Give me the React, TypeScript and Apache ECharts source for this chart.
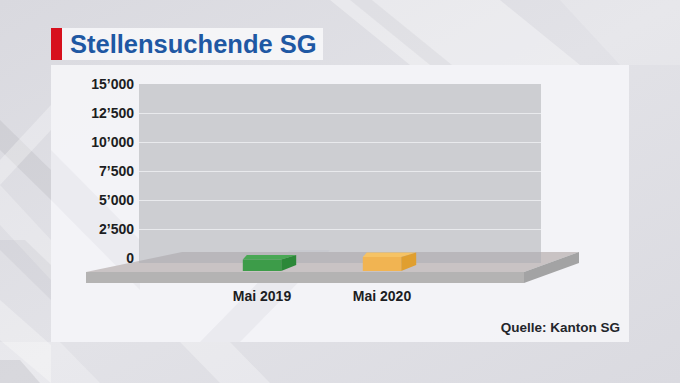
import React, { useEffect, useRef } from "react";
import * as echarts from "echarts";

const categories = ["Mai 2019", "Mai 2020"];
const values = [1000, 1200];
const barColors = [
  { front: "#3d9c49", top: "#4aa855", side: "#2c8838" },
  { front: "#f1b452", top: "#f6c365", side: "#e09f30" },
];
const yMin = 0;
const yMax = 15000;
const yStep = 2500;
const titleText = "Stellensuchende SG";
const sourceText = "Quelle: Kanton SG";

const FONT = "'Liberation Sans', Arial, Helvetica, sans-serif";

function fmt(v: number): string {
  if (v >= 1000) {
    return Math.floor(v / 1000) + "\u2019" + String(v % 1000).padStart(3, "0");
  }
  return String(v);
}

export default function App() {
  const ref = useRef<HTMLDivElement>(null);
  useEffect(() => {
    if (!ref.current) return;
    const chart = echarts.init(ref.current, null, { renderer: "svg" });

    const bg: any[] = [
      {
        type: "rect",
        z: 0,
        shape: { x: 0, y: 0, width: 680, height: 383 },
        style: {
          fill: new echarts.graphic.LinearGradient(0, 0, 1, 1, [
            { offset: 0, color: "#d9d9df" },
            { offset: 0.5, color: "#e2e2e7" },
            { offset: 1, color: "#dadae0" },
          ]),
        },
      },
      { type: "polygon", z: 0, shape: { points: [[330, 0], [500, 0], [580, 65], [410, 65]] }, style: { fill: "rgba(255,255,255,0.35)" } },
      { type: "polygon", z: 0, shape: { points: [[350, 0], [372, 0], [452, 65], [430, 65]] }, style: { fill: "rgba(120,120,130,0.08)" } },
      { type: "polygon", z: 0, shape: { points: [[560, 0], [680, 0], [680, 65], [620, 65]] }, style: { fill: "rgba(255,255,255,0.18)" } },
      { type: "polygon", z: 0, shape: { points: [[0, 120], [51, 170], [51, 200], [0, 150]] }, style: { fill: "rgba(120,120,130,0.12)" } },
      { type: "polygon", z: 0, shape: { points: [[0, 160], [51, 105], [51, 130], [0, 185]] }, style: { fill: "rgba(255,255,255,0.3)" } },
      { type: "polygon", z: 0, shape: { points: [[0, 185], [51, 240], [51, 280], [0, 225]] }, style: { fill: "rgba(255,255,255,0.25)" } },
      { type: "polygon", z: 0, shape: { points: [[0, 240], [25, 240], [51, 265], [51, 300], [0, 250]] }, style: { fill: "rgba(120,120,130,0.08)" } },
      { type: "polygon", z: 0, shape: { points: [[0, 300], [51, 345], [51, 383], [0, 340]] }, style: { fill: "rgba(255,255,255,0.3)" } },
      { type: "polygon", z: 0, shape: { points: [[0, 342], [60, 342], [100, 383], [0, 383]] }, style: { fill: "rgba(255,255,255,0.25)" } },
      { type: "polygon", z: 0, shape: { points: [[180, 342], [230, 342], [270, 383], [220, 383]] }, style: { fill: "rgba(255,255,255,0.3)" } },
      { type: "polygon", z: 0, shape: { points: [[0, 360], [20, 360], [40, 383], [0, 383]] }, style: { fill: "rgba(100,100,110,0.12)" } },
      { type: "rect", z: 0, shape: { x: 51, y: 65, width: 578, height: 277 }, style: { fill: "rgba(245,245,248,0.9)" } },
      { type: "polygon", z: 0, shape: { points: [[51, 150], [140, 240], [140, 290], [51, 200]] }, style: { fill: "rgba(200,200,208,0.18)" } },
      { type: "polygon", z: 0, shape: { points: [[200, 342], [290, 250], [330, 250], [240, 342]] }, style: { fill: "rgba(200,200,208,0.2)" } },
      { type: "rect", z: 0, shape: { x: 62, y: 28, width: 261, height: 32 }, style: { fill: "rgba(246,246,249,0.92)" } },
      { type: "rect", z: 0, shape: { x: 51, y: 28, width: 11, height: 32 }, style: { fill: "#d7101d" } },
      {
        type: "text",
        z: 6,
        x: 70,
        y: 44,
        style: {
          text: titleText,
          font: "bold 25.5px " + FONT,
          fill: "#1f58a3",
          textVerticalAlign: "middle",
          textAlign: "left",
        },
      },
      {
        type: "text",
        z: 6,
        x: 620,
        y: 327,
        style: {
          text: sourceText,
          font: "bold 13.5px " + FONT,
          fill: "#23252b",
          textVerticalAlign: "middle",
          textAlign: "right",
        },
      },
      { type: "polygon", z: 1, shape: { points: [[86, 272], [524, 272], [579, 252], [182, 252]] }, style: { fill: "#c9c3c4" } },
      { type: "polygon", z: 1, shape: { points: [[86, 272], [524, 272], [524, 283], [86, 283]] }, style: { fill: "#b4b3b3" } },
      { type: "polygon", z: 1, shape: { points: [[524, 272], [579, 252], [579, 263], [524, 283]] }, style: { fill: "#a3a3a4" } },
      { type: "rect", z: 2, shape: { x: 139, y: 84, width: 402, height: 179 }, style: { fill: "rgba(172,174,180,0.54)" } },
    ];

    const option: any = {
      animation: false,
      graphic: { elements: bg },
      grid: [
        { left: 139, right: 139, top: 84, bottom: 125 },
        { left: 202, width: 240, top: 84, bottom: 125 },
      ],
      xAxis: [
        { gridIndex: 0, type: "value", show: false, min: 0, max: 1 },
        {
          gridIndex: 1,
          type: "category",
          data: categories,
          axisLine: { show: false },
          axisTick: { show: false },
          axisLabel: {
            margin: 31,
            fontFamily: FONT,
            fontWeight: "bold",
            fontSize: 14,
            color: "#1c1d22",
          },
          z: 6,
        },
      ],
      yAxis: [
        {
          gridIndex: 0,
          type: "value",
          min: yMin,
          max: yMax,
          interval: yStep,
          axisLine: { show: false },
          axisTick: { show: false },
          axisLabel: {
            margin: 5,
            formatter: (v: number) => fmt(v),
            fontFamily: FONT,
            fontWeight: "bold",
            fontSize: 14,
            color: "#1c1d22",
          },
          splitLine: {
            show: true,
            showMinLine: false,
            showMaxLine: false,
            lineStyle: { color: "#e9eaed", width: 1.2 },
          },
          z: 3,
        },
        { gridIndex: 1, type: "value", min: yMin, max: yMax, interval: yStep, show: false },
      ],
      series: [
        {
          type: "custom",
          xAxisIndex: 1,
          yAxisIndex: 1,
          z: 5,
          clip: false,
          data: values.map((v, i) => [i, v]),
          renderItem: (params: any, api: any) => {
            const idx = api.value(0);
            const base = api.coord([idx, 0]);
            const top = api.coord([idx, api.value(1)]);
            const bw = api.size([1, 0])[0] * 0.32;
            const off = 13;
            const x0 = base[0] - bw / 2;
            const x1 = base[0] + bw / 2;
            const yb = base[1] + off;
            const yt = top[1] + off;
            const c = barColors[params.dataIndex % barColors.length];
            return {
              type: "group",
              children: [
                {
                  type: "polygon",
                  shape: { points: [[x0, yt], [x1, yt], [x1 + 15, yt - 4.5], [x0 + 4, yt - 4.5]] },
                  style: { fill: c.top },
                },
                {
                  type: "polygon",
                  shape: { points: [[x1, yt], [x1 + 15, yt - 4.5], [x1 + 15, yb - 6], [x1, yb]] },
                  style: { fill: c.side },
                },
                {
                  type: "rect",
                  shape: { x: x0, y: yt, width: bw, height: yb - yt },
                  style: { fill: c.front },
                },
              ],
            };
          },
        },
      ],
    };
    chart.setOption(option);
    return () => chart.dispose();
  }, []);
  return (
    <div
      ref={ref}
      style={{ position: "absolute", left: 0, top: 0, width: 680, height: 383 }}
    />
  );
}
